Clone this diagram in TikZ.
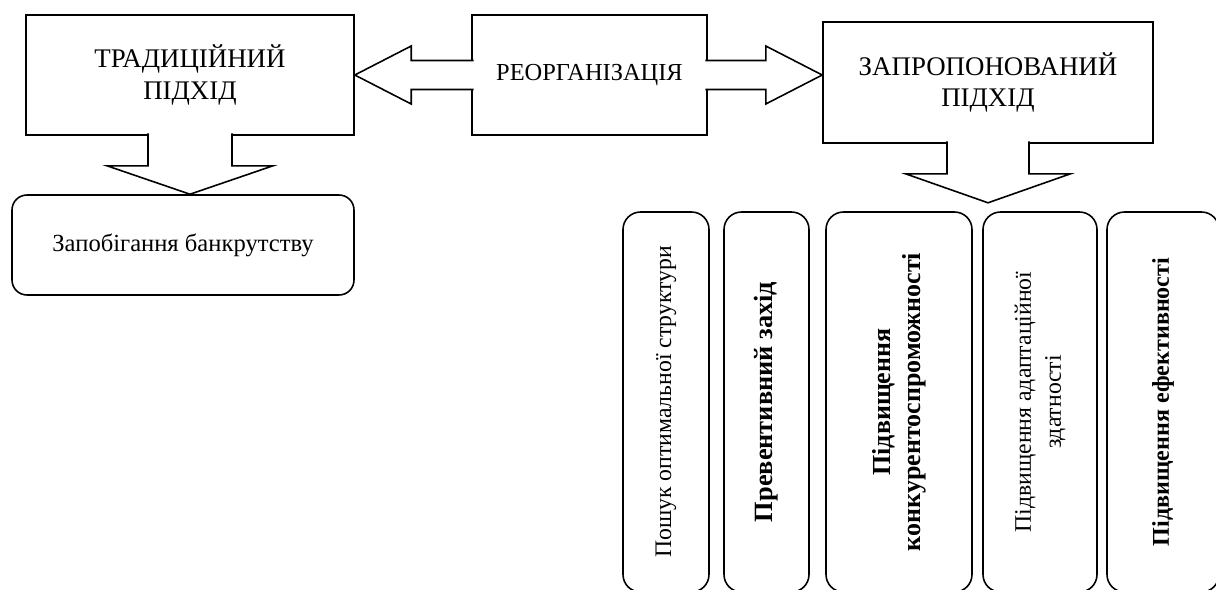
\documentclass[tikz,border=0pt]{standalone}
\usepackage{fontspec}
\setmainfont{Liberation Serif}
\usetikzlibrary{positioning, calc}

\begin{document}
\begin{tikzpicture}[
        headbox/.style={draw, line width=0.9pt, minimum height=2.4cm, align=center, font=\fontsize{15.3}{18}\selectfont},
        goalbox/.style={draw, rounded corners=0.35cm, line width=0.9pt, rotate=90, minimum width=7.6cm, align=center, font=\fontsize{13.5}{17}\selectfont},
        hollow/.style={draw, fill=white, line width=0.9pt, line join=miter}
    ]
        \clip (0, 0) rectangle (24.32, -11.8);

        % Top row
        \node[headbox, minimum width=6.56cm] (trad) at (3.8, -1.5) {ТРАДИЦІЙНИЙ\\ПІДХІД};
        \node[headbox, minimum width=4.7cm, font=\fontsize{13.9}{16}\selectfont] (reorg) at (11.79, -1.5) {РЕОРГАНІЗАЦІЯ};
        \node[headbox, minimum width=6.6cm, minimum height=2.42cm] (zap) at (19.76, -1.65) {ЗАПРОПОНОВАНИЙ\\ПІДХІД};

        % Traditional result
        \node[draw, rounded corners=0.3cm, line width=0.9pt, minimum width=6.84cm, minimum height=2cm, font=\fontsize{14}{16}\selectfont] (bank) at (3.66, -4.9) {Запобігання банкрутству};

        % Proposed results
        \node[goalbox, minimum height=1.72cm] (poshuk) at (13.32, -8.04) {Пошук оптимальної структури};
        \node[goalbox, minimum height=1.7cm, font=\fontsize{15}{17}\bfseries] (prev) at (15.33, -8.04) {Превентивний захід};
        \node[goalbox, minimum height=2.92cm, font=\fontsize{14.8}{17}\bfseries] (konk) at (17.98, -8.04) {Підвищення\\конкурентоспроможності};
        \node[goalbox, minimum height=2.28cm] (adapt) at (20.8, -8.04) {Підвищення адаптаційної\\здатності};
        \node[goalbox, minimum height=2.24cm, font=\fontsize{13.7}{17}\bfseries] (efekt) at (23.26, -8.04) {Підвищення ефективності};

        \coordinate (ztip) at ($(zap.south)+(0, -1.18)$);

        % Block arrows
        \draw[hollow] ($(reorg.west)+(0.05, 0.29)$) -- ++(-1.25, 0) -- ++(0, 0.29) -- (trad.east |- reorg.west)
            -- ($(reorg.west)+(-1.2, -0.58)$) -- ++(0, 0.29) -- ($(reorg.west)+(0.05, -0.29)$);
        \draw[hollow] ($(reorg.east)+(-0.05, 0.29)$) -- ++(1.21, 0) -- ++(0, 0.29) -- (zap.west |- reorg.east)
            -- ($(reorg.east)+(1.16, -0.58)$) -- ++(0, 0.29) -- ($(reorg.east)+(-0.05, -0.29)$);
        \draw[hollow] ($(trad.south)+(-0.84, 0.05)$) -- ++(0, -0.65) -- ++(-0.82, 0) -- (bank.north -| trad.south)
            -- ($(trad.south)+(1.66, -0.6)$) -- ++(-0.82, 0) -- ($(trad.south)+(0.84, 0.05)$);
        \draw[hollow] ($(zap.south)+(-0.82, 0.05)$) -- ++(0, -0.65) -- ++(-0.83, 0) -- (ztip)
            -- ($(zap.south)+(1.65, -0.6)$) -- ++(-0.83, 0) -- ($(zap.south)+(0.82, 0.05)$);
    \end{tikzpicture}
\end{document}
